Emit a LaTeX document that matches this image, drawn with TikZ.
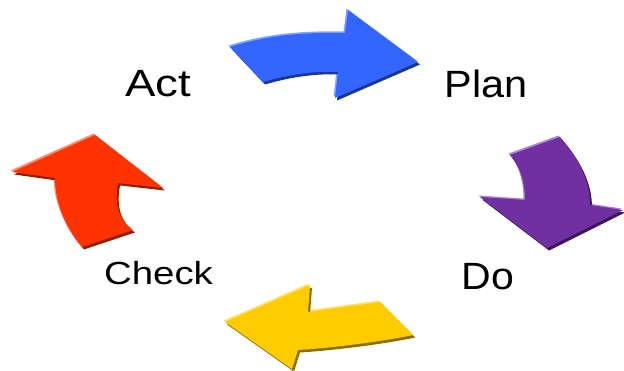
\documentclass[tikz,border=0pt]{standalone}
\usepackage{fontspec}
\usepackage{graphicx}
\setmainfont{Liberation Sans}
\definecolor{bluemain}{RGB}{51,102,255}
\definecolor{bluelight}{RGB}{130,165,255}
\definecolor{bluedark}{RGB}{25,55,150}
\definecolor{purplemain}{RGB}{112,48,160}
\definecolor{purplelight}{RGB}{170,130,210}
\definecolor{purpledark}{RGB}{60,20,95}
\definecolor{yellowmain}{RGB}{255,204,0}
\definecolor{yellowlight}{RGB}{255,225,110}
\definecolor{yellowdark}{RGB}{140,110,0}
\definecolor{redmain}{RGB}{255,51,0}
\definecolor{redlight}{RGB}{255,140,110}
\definecolor{reddark}{RGB}{150,30,0}
% outlines of the four curved arrows (pixel-like units, y downwards)
\def\planarrow{(230,47) .. controls (265,36) and (300,32) .. (345,33) -- (348,10) -- (418,62) -- (335,98) -- (338,72) .. controls (315,71) and (290,74) .. (263,82) -- cycle}
\def\doarrow{(510,155) -- (560,137) .. controls (578,158) and (590,180) .. (590,205) -- (623,210) -- (547,248) -- (480,197) -- (525,200) .. controls (525,182) and (520,166) .. (510,155) -- cycle}
\def\checkarrow{(225,322) -- (310,285) -- (308,312) .. controls (335,308) and (360,305) .. (380,302) -- (413,335) .. controls (380,342) and (330,348) .. (298,350) -- (292,369) -- cycle}
\def\actarrow{(95,135) -- (163,188) -- (118,183) .. controls (114,205) and (119,220) .. (133,230) -- (82,247) .. controls (64,226) and (55,200) .. (55,178) -- (12,172) -- cycle}
\tikzset{
  label text/.style={font=\fontsize{38}{40}\selectfont, anchor=base, inner sep=0pt},
  small label/.style={font=\fontsize{32}{34}\selectfont, anchor=base, inner sep=0pt}
}
\newcommand{\bevelarrow}[4]{%
  \fill[#2] [shift={(-1.5,-1.5)}] #1;
  \fill[#3] [shift={(2,2.5)}] #1;
  \fill[#4] #1;
}
\begin{document}
\begin{tikzpicture}[x=1pt,y=-1pt]
\useasboundingbox (0,0) rectangle (624,371);
\bevelarrow{\planarrow}{bluelight}{bluedark}{bluemain}
\bevelarrow{\doarrow}{purplelight}{purpledark}{purplemain}
\bevelarrow{\checkarrow}{yellowlight}{yellowdark}{yellowmain}
\bevelarrow{\actarrow}{redlight}{reddark}{redmain}
\node[label text] (act) at (158.5,97) {\scalebox{1.2}[1]{Act}};
\node[label text] (plan) at (486,98) {\scalebox{1.09}[1]{Plan}};
\node[label text] (do) at (488,290) {\scalebox{1.08}[1]{Do}};
\node[small label] (check) at (158.5,285) {\scalebox{1.2}[1]{Check}};
\end{tikzpicture}
\end{document}
